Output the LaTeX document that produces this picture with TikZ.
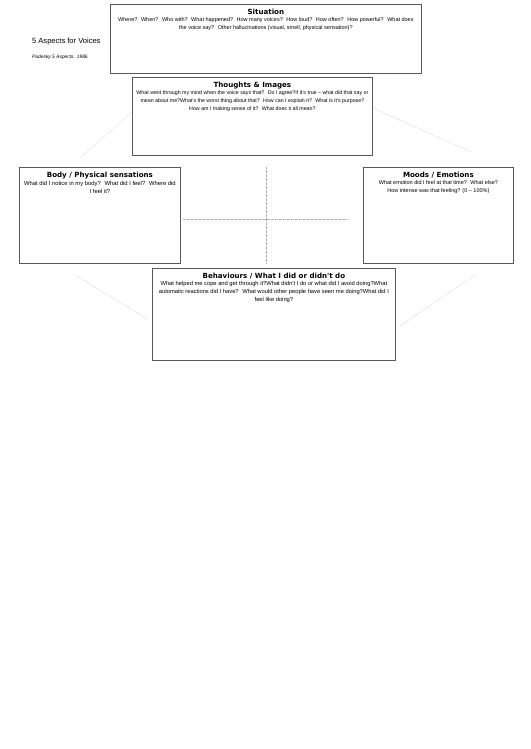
\documentclass[tikz,border=0pt]{standalone}
\usepackage{fontspec}
\setmainfont{Liberation Sans}
\newfontfamily\headfont{DejaVu Sans}
\usetikzlibrary{positioning}
\def\px{0.39623mm}
\tikzstyle{aspect-box}=[draw=black!65,line width=0.9pt,rectangle,anchor=north west,inner sep=0pt]
\tikzstyle{head-node}=[font=\headfont\bfseries\fontsize{8}{10}\selectfont,inner sep=0pt]
\tikzstyle{question-node}=[font=\fontsize{6.2}{9}\selectfont,align=center,inner sep=0pt]
\tikzstyle{title-node}=[font=\fontsize{8.5}{10}\selectfont,anchor=west,inner sep=0pt]
\tikzstyle{grey-line}=[draw=black!30,densely dotted,line width=0.5pt]

\begin{document}
\begin{tikzpicture}[x=\px,y=-\px]
        \useasboundingbox (0,0) rectangle (530,749);

        \begin{scope}
            % the five boxes
            \node (sit)[aspect-box,minimum width=311*\px,minimum height=69*\px] at (110,4) {};
            \node (thk)[aspect-box,minimum width=240*\px,minimum height=78*\px] at (132,77) {};
            \node (body)[aspect-box,minimum width=161*\px,minimum height=96*\px] at (19,167) {};
            \node (mood)[aspect-box,minimum width=150*\px,minimum height=96*\px] at (363,167) {};
            \node (beh)[aspect-box,minimum width=243*\px,minimum height=92*\px] at (152,268) {};

            \node (title)[title-node] at (32,42) {5 Aspects for Voices};
            \node (source)[title-node,font=\itshape\fontsize{5.5}{7}\selectfont] at (32,57) {Padesky 5 Aspects. 1986};

            \node (sit-head)[head-node,below=5.5pt of sit.north] {Situation};
            \node (sit-text)[question-node,font=\fontsize{6.2}{8.8}\selectfont,below=3.5pt of sit-head] {Where?~ When?~ Who with?~ What happened?~ How many voices?~ How loud?~ How often?~ How powerful?~ What does\\the voice say?~ Other hallucinations (visual, smell, physical sensation)?};

            \node (thk-head)[head-node,below=5.5pt of thk.north] {Thoughts \& Images};
            \node (thk-text)[question-node,font=\fontsize{5.95}{8.6}\selectfont,below=2pt of thk-head] {What went through my mind when the voice says that?~ Do I agree?If it's true -- what did that say or\\mean about me?What's the worst thing about that?~ How can I explain it?~ What is it's purpose?\\How am I making sense of it?~ What does it all mean?};

            \node (body-head)[head-node,below=5.5pt of body.north] {Body / Physical sensations};
            \node (body-text)[question-node,font=\fontsize{6.6}{9}\selectfont,below=2pt of body-head] {What did I notice in my body?~ What did I feel?~ Where did\\I feel it?};

            \node (mood-head)[head-node,below=5.5pt of mood.north] {Moods / Emotions};
            \node (mood-text)[question-node,below=2pt of mood-head] {What emotion did I feel at that time?~ What else?\\How intense was that feeling? (0 -- 100\%)};

            \node (beh-head)[head-node,below=5.5pt of beh.north] {Behaviours / What I did or didn't do};
            \node (beh-text)[question-node,font=\fontsize{6.5}{9}\selectfont,below=2pt of beh-head] {What helped me cope and get through it?What didn't I do or what did I avoid doing?What\\automatic reactions did I have?~ What would other people have seen me doing?What did I\\feel like doing?};
        \end{scope}

        \begin{scope}
            % ends of the faint guide lines
            \coordinate (ul) at (80,158);
            \coordinate (ur) at (471,152);
            \coordinate (ll) at (75,275);
            \coordinate (lr) at (475,275);
            \coordinate (bl) at (147,319);
            \coordinate (br) at (400,326);
            \coordinate (top) at (266,167);
            \coordinate (bot) at (266,263);
            \coordinate (lft) at (183,219);
            \coordinate (rgt) at (347,219);

            \path (thk.west |- 0,112) edge[grey-line] (ul);
            \path (thk.east |- 0,108) edge[grey-line] (ur);
            \path (ll) edge[grey-line] (bl);
            \path (lr) edge[grey-line] (br);
            \path (top) edge[grey-line] (bot);
            \path (lft) edge[grey-line] (rgt);
        \end{scope}

    \end{tikzpicture}
\end{document}
